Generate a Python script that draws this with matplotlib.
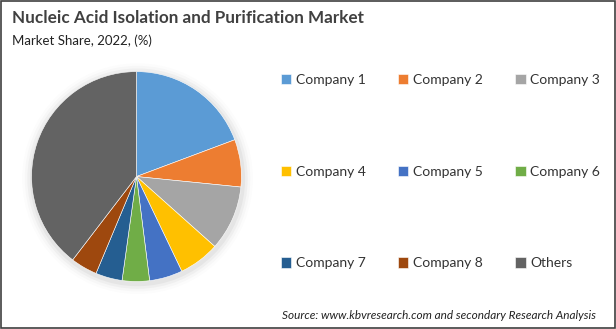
import matplotlib.pyplot as plt
from matplotlib.patches import Rectangle, Circle

# Data
labels = ["Company 1", "Company 2", "Company 3", "Company 4", "Company 5",
          "Company 6", "Company 7", "Company 8", "Others"]
shares = [19.3, 7.3, 10.0, 6.3, 5.1, 4.2, 4.1, 4.1, 39.6]
colors = ["#5B9BD5", "#ED7D31", "#A5A5A5", "#FFC000", "#4472C4",
          "#70AD47", "#255E91", "#9E480E", "#636363"]

plt.rcParams['font.family'] = ['Lato', 'DejaVu Sans']

fig = plt.figure(figsize=(6.16, 3.29), dpi=100)
fig.patch.set_facecolor("white")

# Pie axes (room around the pie for the soft shadow)
pad = 1.12
ax = fig.add_axes([0.0511 - 0.3409 * (pad - 1) / 2, 0.1444 - 0.638 * (pad - 1) / 2,
                   0.3409 * pad, 0.638 * pad])
for i, a in enumerate([0.04, 0.03, 0.02, 0.012]):
    ax.add_patch(Circle((0.01, -0.02), 1.0 + 0.025 * (i + 1), color="black",
                        alpha=a, lw=0, zorder=0))
wedges, _ = ax.pie(shares, colors=colors, startangle=90, counterclock=False,
                   radius=1.0, wedgeprops=dict(edgecolor="white", linewidth=0.4))
for w in wedges:
    w.set_zorder(2)
ax.set_xlim(-pad, pad)
ax.set_ylim(-pad, pad)
ax.set_aspect("equal")
ax.axis("off")

# Legend in three columns, filled row by row
order = [0, 3, 6, 1, 4, 7, 2, 5, 8]
leg = fig.legend([wedges[i] for i in order], [labels[i] for i in order],
                 ncol=3, loc="upper left", bbox_to_anchor=(0.447, 0.793),
                 borderaxespad=0, frameon=False,
                 fontsize=10, handlelength=0.75, handleheight=0.75,
                 handletextpad=0.35, columnspacing=2.3, labelspacing=5.75)
for t in leg.get_texts():
    t.set_color("#333333")

# Titles
fig.text(0.019, 0.945, "Nucleic Acid Isolation and Purification Market",
         fontsize=12.3, fontweight="bold", color="#404040", va="center")
fig.text(0.019, 0.877, "Market Share, 2022, (%)", fontsize=9.5,
         color="#222222", va="center")
fig.text(0.967, 0.04, "Source: www.kbvresearch.com and secondary Research Analysis",
         fontsize=8.5, style="italic", color="#222222", ha="right", va="center")

# Outer frame
fig.patches.append(Rectangle((0.001, 0.002), 0.997, 0.995, transform=fig.transFigure,
                             fill=False, edgecolor="#404040", linewidth=1.2))

fig.savefig("out.png", dpi=100)
